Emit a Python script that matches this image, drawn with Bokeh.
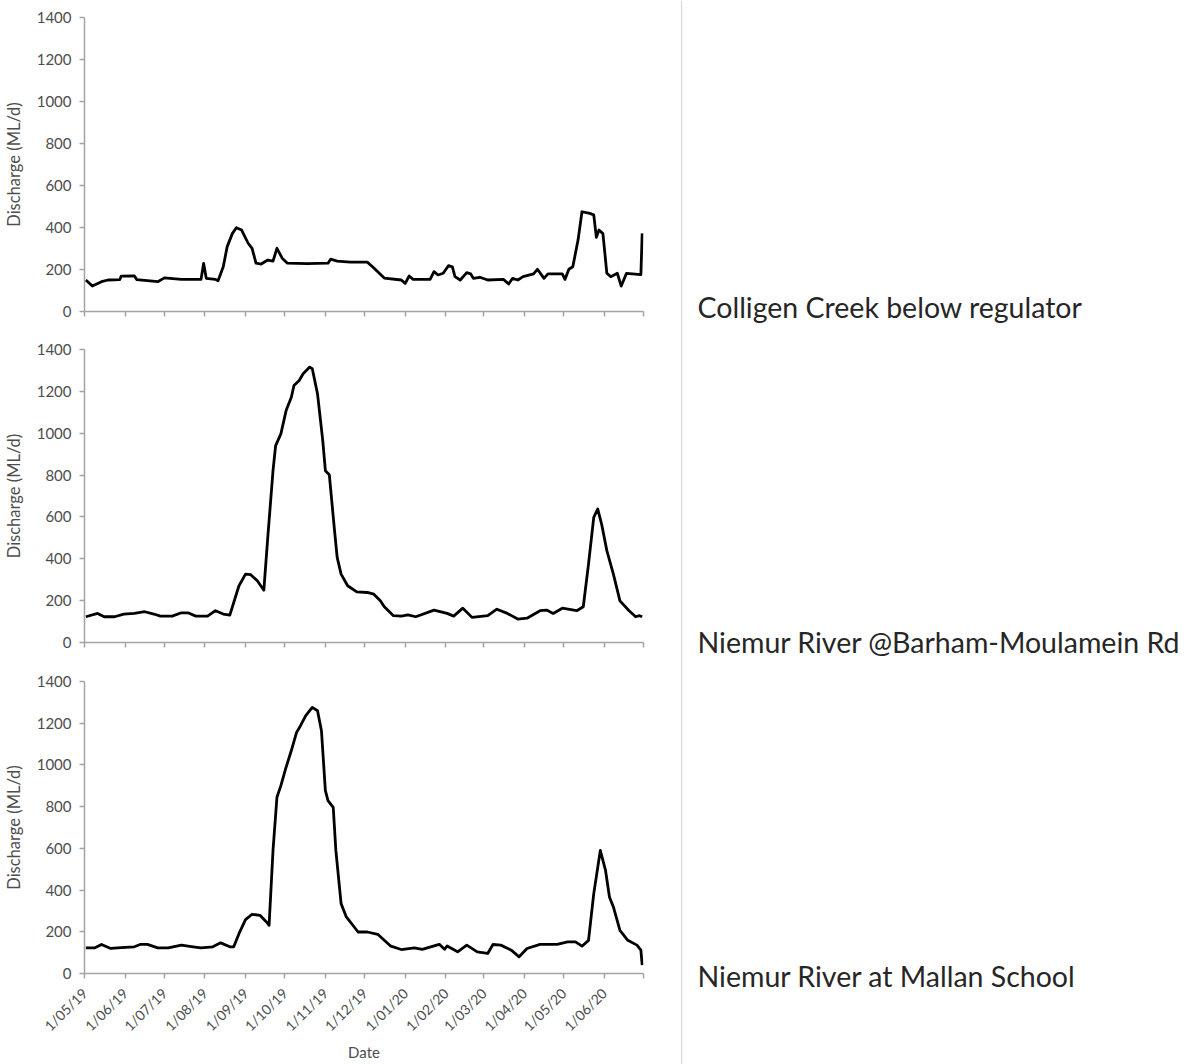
import numpy as np
from bokeh.plotting import figure
from bokeh.layouts import row, column
from bokeh.models import Range1d, FixedTicker, CustomJSTickFormatter, Label, Span
from bokeh.embed import file_html
from bokeh.resources import INLINE

# ---------------------------------------------------------------- data
colligen_dates = [
    "2019-05-02", "2019-05-07", "2019-05-14", "2019-05-19", "2019-05-28", "2019-05-29",
    "2019-06-08", "2019-06-10", "2019-06-26", "2019-07-01", "2019-07-14", "2019-07-29",
    "2019-07-31", "2019-08-02", "2019-08-09", "2019-08-11", "2019-08-15", "2019-08-18",
    "2019-08-22", "2019-08-25", "2019-08-29", "2019-09-03", "2019-09-06", "2019-09-09",
    "2019-09-13", "2019-09-18", "2019-09-22", "2019-09-25", "2019-09-29", "2019-10-03",
    "2019-10-18", "2019-11-03", "2019-11-05", "2019-11-10", "2019-11-20", "2019-12-03",
    "2019-12-07", "2019-12-16", "2019-12-29", "2020-01-01", "2020-01-04", "2020-01-07",
    "2020-01-20", "2020-01-23", "2020-01-26", "2020-01-30", "2020-02-03", "2020-02-06",
    "2020-02-08", "2020-02-12", "2020-02-17", "2020-02-20", "2020-02-22", "2020-02-27",
    "2020-03-04", "2020-03-16", "2020-03-20", "2020-03-23", "2020-03-27", "2020-03-31",
    "2020-04-08", "2020-04-11", "2020-04-16", "2020-04-19", "2020-04-30", "2020-05-02",
    "2020-05-05", "2020-05-08", "2020-05-12", "2020-05-15", "2020-05-21", "2020-05-24",
    "2020-05-26", "2020-05-28", "2020-05-31", "2020-06-03", "2020-06-06", "2020-06-11",
    "2020-06-14", "2020-06-18", "2020-06-29", "2020-06-30",
]
colligen_flow = [
    150, 121, 142, 150, 152, 168, 170, 152, 142, 160, 153, 153,
    229, 158, 153, 146, 213, 309, 372, 399, 388, 325, 301, 230,
    226, 245, 240, 301, 254, 230, 228, 230, 249, 240, 235, 235,
    213, 159, 150, 134, 169, 153, 153, 190, 174, 182, 218, 213,
    166, 150, 185, 179, 158, 163, 150, 153, 131, 158, 150, 166,
    179, 201, 158, 179, 179, 153, 201, 213, 340, 475, 467, 460,
    353, 388, 371, 182, 166, 182, 121, 182, 176, 372,
]

barham_dates = [
    "2019-05-02", "2019-05-11", "2019-05-16", "2019-05-24", "2019-05-31", "2019-06-08",
    "2019-06-16", "2019-06-23", "2019-06-28", "2019-07-07", "2019-07-14", "2019-07-19",
    "2019-07-25", "2019-08-03", "2019-08-09", "2019-08-15", "2019-08-20", "2019-08-23",
    "2019-08-27", "2019-09-01", "2019-09-05", "2019-09-10", "2019-09-15", "2019-09-18",
    "2019-09-22", "2019-09-24", "2019-09-28", "2019-10-02", "2019-10-06", "2019-10-08",
    "2019-10-12", "2019-10-15", "2019-10-20", "2019-10-22", "2019-10-26", "2019-10-30",
    "2019-11-01", "2019-11-04", "2019-11-08", "2019-11-10", "2019-11-13", "2019-11-18",
    "2019-11-25", "2019-12-03", "2019-12-08", "2019-12-13", "2019-12-16", "2019-12-23",
    "2019-12-29", "2020-01-03", "2020-01-09", "2020-01-23", "2020-02-02", "2020-02-07",
    "2020-02-14", "2020-02-21", "2020-03-04", "2020-03-11", "2020-03-19", "2020-03-27",
    "2020-04-03", "2020-04-13", "2020-04-18", "2020-04-23", "2020-04-30", "2020-05-11",
    "2020-05-16", "2020-05-20", "2020-05-24", "2020-05-27", "2020-05-30", "2020-06-03",
    "2020-06-08", "2020-06-13", "2020-06-20", "2020-06-25", "2020-06-28", "2020-06-30",
]
barham_flow = [
    123, 139, 123, 123, 136, 139, 147, 136, 126, 126, 142, 142,
    126, 126, 152, 136, 131, 191, 271, 327, 324, 295, 250, 502,
    821, 941, 997, 1108, 1172, 1228, 1252, 1284, 1316, 1308, 1188, 965,
    821, 802, 534, 407, 327, 271, 242, 239, 231, 200, 171, 128,
    126, 132, 123, 155, 139, 126, 164, 120, 128, 159, 139, 112,
    116, 152, 155, 139, 164, 152, 171, 375, 598, 638, 566, 439,
    327, 199, 152, 123, 128, 123,
]

mallan_dates = [
    "2019-05-02", "2019-05-09", "2019-05-14", "2019-05-21", "2019-05-29", "2019-06-08",
    "2019-06-13", "2019-06-18", "2019-06-26", "2019-07-04", "2019-07-14", "2019-07-23",
    "2019-07-29", "2019-08-07", "2019-08-13", "2019-08-20", "2019-08-23", "2019-08-27",
    "2019-09-01", "2019-09-06", "2019-09-12", "2019-09-17", "2019-09-19", "2019-09-22",
    "2019-09-25", "2019-09-28", "2019-10-02", "2019-10-06", "2019-10-10", "2019-10-13",
    "2019-10-17", "2019-10-22", "2019-10-26", "2019-10-29", "2019-11-01", "2019-11-03",
    "2019-11-07", "2019-11-09", "2019-11-13", "2019-11-17", "2019-11-26", "2019-12-03",
    "2019-12-11", "2019-12-21", "2019-12-29", "2020-01-08", "2020-01-14", "2020-01-27",
    "2020-01-31", "2020-02-02", "2020-02-10", "2020-02-17", "2020-02-25", "2020-03-04",
    "2020-03-08", "2020-03-14", "2020-03-22", "2020-03-28", "2020-04-03", "2020-04-13",
    "2020-04-26", "2020-05-04", "2020-05-10", "2020-05-15", "2020-05-20", "2020-05-24",
    "2020-05-29", "2020-06-02", "2020-06-05", "2020-06-08", "2020-06-13", "2020-06-19",
    "2020-06-26", "2020-06-29", "2020-06-30",
]
mallan_flow = [
    123, 123, 139, 120, 124, 128, 140, 140, 123, 123, 136, 128,
    123, 128, 147, 128, 128, 191, 258, 284, 279, 247, 231, 590,
    845, 901, 989, 1069, 1156, 1188, 1236, 1276, 1260, 1164, 877, 829,
    797, 590, 335, 271, 199, 199, 188, 131, 115, 123, 116, 140,
    116, 132, 104, 136, 104, 96, 139, 136, 112, 80, 120, 140,
    140, 152, 152, 131, 159, 383, 590, 494, 367, 319, 207, 159,
    136, 112, 40,
]

site_names = [
    "Colligen Creek below regulator",
    "Niemur River @Barham-Moulamein Rd",
    "Niemur River at Mallan School",
]

month_ticks = [
    "2019-05-01", "2019-06-01", "2019-07-01", "2019-08-01", "2019-09-01", "2019-10-01",
    "2019-11-01", "2019-12-01", "2020-01-01", "2020-02-01", "2020-03-01", "2020-04-01",
    "2020-05-01", "2020-06-01",
]
axis_end = "2020-07-01"
y_ticks = [0, 200, 400, 600, 800, 1000, 1200, 1400]

# ---------------------------------------------------------------- styling
FONT = "Lato"
AXIS_GREY = "#a3a3a3"
LABEL_GREY = "#4d4d4d"


def ms(day):
    return float(np.datetime64(day, "ms").astype("int64"))


DATE_LABEL = CustomJSTickFormatter(code="""
    const d = new Date(tick);
    const mm = String(d.getUTCMonth() + 1).padStart(2, "0");
    const yy = String(d.getUTCFullYear() % 100).padStart(2, "0");
    return d.getUTCDate() + "/" + mm + "/" + yy;
""")


def make_panel(dates, flows, height, top, bottom, show_dates):
    p = figure(
        width=680, height=height, x_axis_type="datetime",
        x_range=Range1d(ms(month_ticks[0]), ms(axis_end)),
        y_range=Range1d(0, 1400),
        toolbar_location=None, output_backend="svg",
        min_border_left=83, min_border_right=37,
        min_border_top=top, min_border_bottom=bottom,
    )
    p.line(np.array(dates, dtype="datetime64[D]"), flows,
           line_color="black", line_width=2.8, line_join="round")

    p.grid.visible = False
    p.outline_line_color = None
    p.background_fill_color = "white"
    p.border_fill_color = "white"

    # vertical axis
    p.yaxis.ticker = FixedTicker(ticks=y_ticks, minor_ticks=[])
    p.yaxis.axis_label = "Discharge (ML/d)"
    p.yaxis.axis_label_text_font = FONT
    p.yaxis.axis_label_text_font_size = "16.5px"
    p.yaxis.axis_label_text_font_style = "normal"
    p.yaxis.axis_label_text_color = LABEL_GREY
    p.yaxis.axis_label_standoff = 10
    p.yaxis.major_label_text_font = FONT
    p.yaxis.major_label_text_font_size = "15px"
    p.yaxis.major_label_text_color = LABEL_GREY
    p.yaxis.major_label_standoff = 8

    # date axis: monthly ticks, the closing month only as a tick mark
    p.xaxis.ticker = FixedTicker(ticks=[ms(d) for d in month_ticks],
                                 minor_ticks=[ms(axis_end)])
    p.xaxis.minor_tick_out = 5
    p.xaxis.minor_tick_in = 0
    p.xaxis.minor_tick_line_color = AXIS_GREY
    p.xaxis.minor_tick_line_width = 1.5
    if show_dates:
        p.xaxis.formatter = DATE_LABEL
        p.xaxis.major_label_orientation = np.pi / 4
        p.xaxis.major_label_text_font = FONT
        p.xaxis.major_label_text_font_size = "14px"
        p.xaxis.major_label_text_color = LABEL_GREY
        p.xaxis.major_label_standoff = 12
        p.xaxis.axis_label = "Date"
        p.xaxis.axis_label_text_font = FONT
        p.xaxis.axis_label_text_font_size = "15px"
        p.xaxis.axis_label_text_font_style = "normal"
        p.xaxis.axis_label_text_color = LABEL_GREY
        p.xaxis.axis_label_standoff = 0
    else:
        p.xaxis.formatter = CustomJSTickFormatter(code="return '';")
        p.xaxis.major_label_text_font_size = "0px"
        p.xaxis.major_label_standoff = 0

    for ax in (p.xaxis, p.yaxis):
        ax.axis_line_color = AXIS_GREY
        ax.axis_line_width = 1.5
        ax.major_tick_line_color = AXIS_GREY
        ax.major_tick_line_width = 1.5
        ax.major_tick_out = 5
        ax.major_tick_in = 0
    p.yaxis.minor_tick_line_color = None
    return p


p1 = make_panel(colligen_dates, colligen_flow, 330, 17, 19, False)
p2 = make_panel(barham_dates, barham_flow, 330, 19, 18, False)
p3 = make_panel(mallan_dates, mallan_flow, 404, 21, 91, True)

# site names to the right, separated by a thin rule
names = figure(width=521, height=1064, x_range=Range1d(0, 521), y_range=Range1d(1064, 0),
               toolbar_location=None, output_backend="svg", min_border=0)
names.axis.visible = False
names.grid.visible = False
names.outline_line_color = None
names.add_layout(Span(location=1, dimension="height", line_color="#dcdcdc", line_width=1.5))
for name, baseline in zip(site_names, [306, 641, 975]):
    names.add_layout(Label(x=17, y=baseline, text=name, text_font=FONT,
                           text_font_size="28.5px", text_color="#262626",
                           text_baseline="alphabetic"))

layout = row(column(p1, p2, p3), names)

with open("out.html", "w") as f:
    f.write(file_html(layout, INLINE))
